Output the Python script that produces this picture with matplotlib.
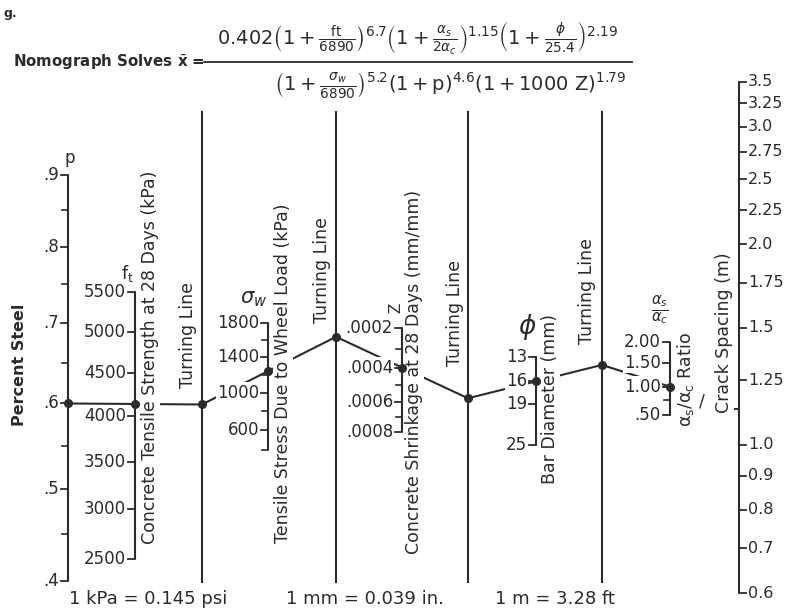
import numpy as np
import matplotlib
matplotlib.use("Agg")
import matplotlib.pyplot as plt

plt.rcParams['font.family'] = ['DejaVu Sans']
plt.rcParams['mathtext.fontset'] = 'dejavusans'

# scale values
p_major = [0.9, 0.8, 0.7, 0.6, 0.5, 0.4]
p_labels = ['.9', '.8', '.7', '.6', '.5', '.4']
p_minor = [0.85, 0.75, 0.65, 0.55, 0.45]

ft_major = [5500, 5000, 4500, 4000, 3500, 3000, 2500]
ft_labels = [str(v) for v in ft_major]

sw_major = [1800, 1400, 1000, 600]
sw_labels = [str(v) for v in sw_major]
sw_minor = [1600, 1200, 800, 400]

z_major = [0.0002, 0.0004, 0.0006, 0.0008]
z_labels = ['.0002', '.0004', '.0006', '.0008']
z_minor = [0.0003, 0.0005, 0.0007]

phi_major = [13, 16, 19, 25]
phi_labels = ['13', '16', '19', '25']

ratio_major = [2.0, 1.5, 1.0, 0.5]
ratio_labels = ['2.00', '1.50', '1.00', '.50']
ratio_minor = [0.75]

xbar_major = [3.5, 3.25, 3.0, 2.75, 2.5, 2.25, 2.0, 1.75, 1.5, 1.25, 1.0, 0.9, 0.8, 0.7, 0.6]
xbar_labels = ['3.5', '3.25', '3.0', '2.75', '2.5', '2.25', '2.0', '1.75', '1.5',
               '1.25', '1.0', '0.9', '0.8', '0.7', '0.6']

# worked example traced across the chart
ex_p = 0.6
ex_ft = 4140
ex_sw = 1240
ex_z = 0.0004
ex_phi = 16
ex_ratio = 1.0

INK = '#2b2b2b'
FS = 12          # tick labels
FS_T = 12.5      # scale titles


def log_scale(f, v_top, y_top, v_bot, y_bot):
    k = (y_bot - y_top) / (f(v_bot) - f(v_top))
    return lambda v: y_top + (f(v) - f(v_top)) * k


# each scale is logarithmic in its factor of the formula
y_p = log_scale(lambda v: np.log10(1 + v), 0.9, 175, 0.4, 581)
y_ft = log_scale(lambda v: np.log10(1 + v / 6890), 5500, 292, 2500, 559)
y_sw = log_scale(lambda v: np.log10(1 + v / 6890), 1800, 323, 400, 450)
y_z = log_scale(lambda v: np.log10(1 + 1000 * v), 0.0002, 328, 0.0008, 432)
y_phi = log_scale(lambda v: np.log10(1 + v / 25.4), 13, 357, 25, 445)
y_ratio = log_scale(lambda v: np.log10(1 + v / 2), 2.0, 342, 0.5, 415)
y_xbar = log_scale(np.log10, 3.5, 82, 0.6, 593)

X_P, X_FT, X_T1, X_SW, X_T2, X_Z, X_T3, X_PHI, X_T4, X_R, X_XB = \
    68, 135, 202, 268, 336, 402, 468, 536, 602, 670, 739

fig = plt.figure(figsize=(7.93, 6.15), dpi=100)
ax = fig.add_axes([0, 0, 1, 1])
ax.set_xlim(0, 793)
ax.set_ylim(615, 0)
ax.axis('off')

white = dict(facecolor='white', edgecolor='none', pad=1.0)


def draw_scale(x, fn, major, labels, minor=(), side='left', fs=FS):
    vals = list(major) + list(minor)
    ys = [fn(v) for v in vals]
    ax.plot([x, x], [min(ys), max(ys)], color=INK, lw=1.5, zorder=3,
            solid_capstyle='butt')
    sgn = -1 if side == 'left' else 1
    for v, lab in zip(major, labels):
        y = fn(v)
        ax.plot([x, x + sgn * 7], [y, y], color=INK, lw=1.3, zorder=3)
        ax.text(x + sgn * 9, y, lab, ha='right' if side == 'left' else 'left',
                va='center', fontsize=fs, color=INK, zorder=5, bbox=white)
    for v in minor:
        y = fn(v)
        ax.plot([x, x + sgn * 6], [y, y], color=INK, lw=1.2, zorder=3)


draw_scale(X_P, y_p, p_major, p_labels, p_minor)
draw_scale(X_FT, y_ft, ft_major, ft_labels)
draw_scale(X_SW, y_sw, sw_major, sw_labels, sw_minor)
draw_scale(X_Z, y_z, z_major, z_labels, z_minor)
draw_scale(X_PHI, y_phi, phi_major, phi_labels)
draw_scale(X_R, y_ratio, ratio_major, ratio_labels, ratio_minor)
draw_scale(X_XB, y_xbar, xbar_major, xbar_labels, side='right', fs=11.5)

# turning lines
for x in (X_T1, X_T2, X_T3, X_T4):
    ax.plot([x, x], [112, 582], color=INK, lw=1.5, zorder=3)


# solution path: each turning point lies on the extension of the previous segment
def extend(xa, ya, xb, yb, xn):
    return yb + (yb - ya) * (xn - xb) / (xb - xa)


pts = [(X_P, y_p(ex_p)), (X_FT, y_ft(ex_ft))]
pts.append((X_T1, extend(*pts[-2], *pts[-1], X_T1)))
pts.append((X_SW, y_sw(ex_sw)))
pts.append((X_T2, extend(*pts[-2], *pts[-1], X_T2)))
pts.append((X_Z, y_z(ex_z)))
pts.append((X_T3, extend(*pts[-2], *pts[-1], X_T3)))
pts.append((X_PHI, y_phi(ex_phi)))
pts.append((X_T4, extend(*pts[-2], *pts[-1], X_T4)))
pts.append((X_R, y_ratio(ex_ratio)))
y_answer = extend(*pts[-2], *pts[-1], X_XB)

px, py = zip(*pts)
ax.plot(px, py, color=INK, lw=1.5, zorder=2)
ax.plot(px, py, 'o', color=INK, ms=5.5, zorder=6)
ax.plot([X_XB - 6, X_XB], [y_answer, y_answer], color=INK, lw=1.4, zorder=3)

# scale titles
rot = dict(rotation=90, ha='center', va='center', color=INK, zorder=4, bbox=white)
ax.text(20, 365, 'Percent Steel', fontsize=11.5, fontweight='bold', **rot)
ax.text(150, 357, 'Concrete Tensile Strength at 28 Days (kPa)', fontsize=FS_T, **rot)
ax.text(283, 373, 'Tensile Stress Due to Wheel Load (kPa)', fontsize=FS_T, **rot)
ax.text(414, 372, 'Concrete Shrinkage at 28 Days (mm/mm)', fontsize=FS_T, **rot)
ax.text(550, 399, 'Bar Diameter (mm)', fontsize=FS_T, **rot)
ax.text(685, 380, r'$\mathregular{\alpha_s/\alpha_c}$ Ratio', fontsize=FS_T, **rot)
ax.text(724, 333, 'Crack Spacing (m)', fontsize=FS_T, **rot)
ax.text(702, 401, '/', fontsize=FS_T, ha='center', va='center', color=INK, zorder=4)
for x, yc in ((X_T1 - 14, 335), (X_T2 - 14, 270), (X_T3 - 13, 313), (X_T4 - 15, 291)):
    ax.text(x, yc, 'Turning Line', fontsize=FS_T, **rot)

# variable symbols
ax.text(70, 158, 'p', fontsize=12, ha='center', va='center', color=INK)
ax.text(127, 273, r'$\mathregular{f_t}$', fontsize=12.5, ha='center', va='center', color=INK)
ax.text(254, 299, r'$\sigma_w$', fontsize=15, ha='center', va='center', color=INK)
ax.text(396, 308, 'Z', fontsize=11, rotation=90, ha='center', va='center', color=INK)
ax.text(527, 327, r'$\phi$', fontsize=19, ha='center', va='center', color=INK)
ax.text(660, 310, r'$\frac{\alpha_s}{\alpha_c}$', fontsize=15, ha='center', va='center', color=INK)

# formula
ax.text(4, 13, 'g.', fontsize=9, fontweight='bold', ha='left', va='center', color=INK)
ax.text(13, 62, r'Nomograph Solves $\bar{\mathregular{x}}$ =', fontsize=10.8,
        fontweight='bold', ha='left', va='center', color=INK)
ax.plot([204, 632], [62, 62], color=INK, lw=1.3)
ax.text(418, 38, r'$0.402\left(1+\frac{\mathregular{ft}}{6890}\right)^{6.7}'
        r'\left(1+\frac{\alpha_s}{2\alpha_c}\right)^{1.15}'
        r'\left(1+\frac{\phi}{25.4}\right)^{2.19}$',
        fontsize=14, ha='center', va='center', color=INK)
ax.text(450, 86, r'$\left(1+\frac{\sigma_w}{6890}\right)^{5.2}\left(1+\mathregular{p}\right)^{4.6}'
        r'\left(1+1000\ \mathregular{Z}\right)^{1.79}$',
        fontsize=14, ha='center', va='center', color=INK)

# unit conversions
for xc, s in ((148, '1 kPa = 0.145 psi'), (365, '1 mm = 0.039 in.'), (555, '1 m = 3.28 ft')):
    ax.text(xc, 599, s, fontsize=13, ha='center', va='center', color=INK)

fig.savefig('out.png', dpi=100, facecolor='white')
